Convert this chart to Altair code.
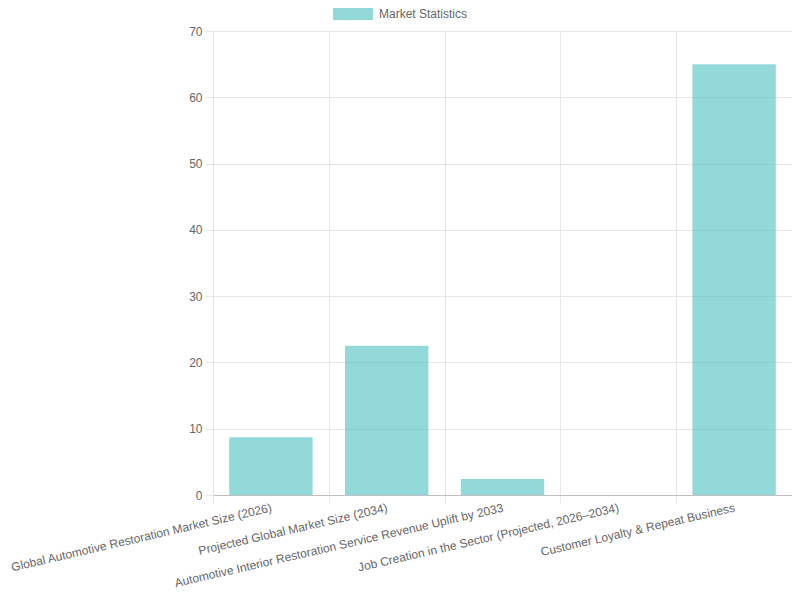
import altair as alt
import pandas as pd

categories = [
    "Global Automotive Restoration Market Size (2026)",
    "Projected Global Market Size (2034)",
    "Automotive Interior Restoration Service Revenue Uplift by 2033",
    "Job Creation in the Sector (Projected, 2026\u20132034)",
    "Customer Loyalty & Repeat Business",
]
values = [8.7, 22.5, 2.4, 0, 65]
series = "Market Statistics"

df = pd.DataFrame({"category": categories, "value": values, "series": [series] * len(categories)})

FONT = "Liberation Sans"
GRID = "#e6e6e6"

chart = (
    alt.Chart(df)
    .mark_bar(opacity=0.6, width=alt.RelativeBandSize(0.72))
    .encode(
        x=alt.X(
            "category:N",
            sort=categories,
            title=None,
            scale=alt.Scale(paddingInner=0, paddingOuter=0),
            axis=alt.Axis(
                labelAngle=-13,
                labelAlign="right",
                labelBaseline="middle",
                labelPadding=4,
                labelLimit=0,
                tickBand="extent",
                grid=True,
                gridColor=GRID,
                tickColor=GRID,
                tickSize=8,
                domainColor="#c0c0c0",
                labelColor="#666666",
                labelFontSize=12,
                labelFont=FONT,
            ),
        ),
        y=alt.Y(
            "value:Q",
            title=None,
            scale=alt.Scale(domain=[0, 70]),
            axis=alt.Axis(
                values=[0, 10, 20, 30, 40, 50, 60, 70],
                grid=True,
                gridColor=GRID,
                tickColor=GRID,
                tickSize=8,
                labelPadding=3,
                domainColor=GRID,
                labelColor="#666666",
                labelFontSize=12,
                labelFont=FONT,
            ),
        ),
        color=alt.Color(
            "series:N",
            scale=alt.Scale(range=["#4bc0c0"]),
            legend=alt.Legend(
                title=None,
                orient="none",
                legendX=120,
                legendY=-37,
                symbolType="M-1,-0.3H1V0.3H-1Z",
                symbolSize=1600,
                symbolOpacity=0.6,
                symbolStrokeWidth=0,
                labelOffset=6,
                labelColor="#666666",
                labelFontSize=12,
                labelFont=FONT,
            ),
        ),
    )
    .properties(
        width=579,
        height=464,
        autosize=alt.AutoSizeParams(type="none"),
        padding={"left": 205, "top": 23, "right": 0, "bottom": 97},
    )
    .configure_view(stroke=GRID)
)

chart.save("out.html", embed_options={"renderer": "svg", "actions": False})
